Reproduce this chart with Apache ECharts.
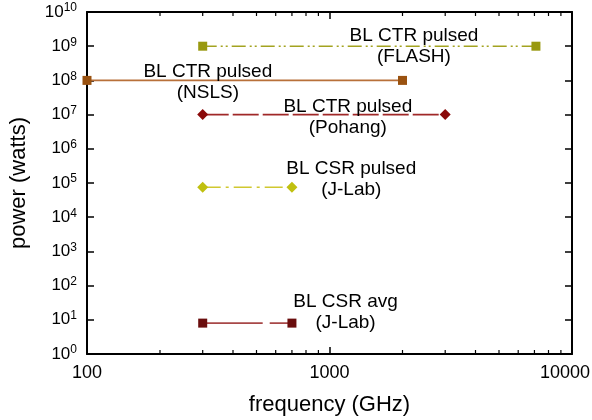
<!DOCTYPE html>
<html><head><meta charset="utf-8">
<script src="https://cdn.jsdelivr.net/npm/echarts@6/dist/echarts.min.js"></script>
<style>html,body{margin:0;padding:0;background:#fff}#c{width:592px;height:420px}</style>
</head><body><div id="c"></div>
<script>
// Data
const flashX = [300, 7100];   const flashY = [1e9, 1e9];
const nslsX = [100, 2000];    const nslsY = [1e8, 1e8];
const pohangX = [300, 3000];  const pohangY = [1e7, 1e7];
const jlabPX = [300, 700];    const jlabPY = [7.5e4, 7.5e4];
const jlabAX = [300, 700];    const jlabAY = [8, 8];
const labelTexts = ['BL CTR pulsed\n(FLASH)', 'BL CTR pulsed\n(NSLS)', 'BL CTR pulsed\n(Pohang)', 'BL CSR pulsed\n(J-Lab)', 'BL CSR avg\n(J-Lab)'];
const labelX = [2230, 315, 1190, 1230, 1165];
const labelY = [1e9, 0.87e8, 0.82e7, 1.3e5, 17];
const xMinorTicks = [200,300,400,500,600,700,800,900,2000,3000,4000,5000,6000,7000,8000,9000];

const pair = (xs, ys) => xs.map((x, i) => [x, ys[i]]);
const font = 'Liberation Sans, Arial, sans-serif';

const chart = echarts.init(document.getElementById('c'), null, {renderer: 'canvas'});
function line(name, xs, ys, lineColor, markerColor, symbol, dash, size) {
  return {
    name, type: 'line', data: pair(xs, ys), symbol, symbolSize: size || 9,
    lineStyle: {color: lineColor, width: 1.6, type: dash},
    itemStyle: {color: markerColor}, z: 3
  };
}
const opt = {
  animation: false,
  grid: {left: 87, right: 20, top: 12, bottom: 66, containLabel: false, outerBoundsMode: 'none'},
  xAxis: [{
    type: 'log', logBase: 10, min: 100, max: 10000,
    name: 'frequency (GHz)', nameLocation: 'middle', nameGap: 40,
    nameTextStyle: {fontSize: 22, fontFamily: font, color: '#000'},
    axisLine: {lineStyle: {color: '#000', width: 2}},
    axisTick: {inside: true, length: 7, lineStyle: {color: '#000', width: 1.5}},
    axisLabel: {fontSize: 18, fontFamily: font, color: '#000', margin: 10,
      formatter: v => v >= 9999 ? '{r|' + Math.round(v) + '}' : String(Math.round(v)),
      rich: {r: {fontSize: 18, fontFamily: font, color: '#000', padding: [0, 14, 0, 0]}}},
    splitLine: {show: false}
  }, {
    type: 'log', logBase: 10, min: 100, max: 10000, position: 'top',
    axisLine: {lineStyle: {color: '#000', width: 2}},
    axisTick: {inside: true, length: 7, lineStyle: {color: '#000', width: 1.5}},
    axisLabel: {show: false}, splitLine: {show: false}
  }],
  yAxis: [{
    type: 'log', logBase: 10, min: 1, max: 1e10, interval: 1,
    name: 'power (watts)', nameLocation: 'middle', nameGap: 57, nameRotate: 90,
    nameTextStyle: {fontSize: 22, fontFamily: font, color: '#000'},
    axisLine: {lineStyle: {color: '#000', width: 2}},
    axisTick: {inside: true, length: 7, lineStyle: {color: '#000', width: 1.5}},
    axisLabel: {
      fontFamily: font, color: '#000', margin: 10,
      formatter: v => '{b|10}{s|' + Math.round(Math.log10(v)) + '}',
      rich: {b: {fontSize: 17, fontFamily: font, color: '#000'},
             s: {fontSize: 12, fontFamily: font, color: '#000', verticalAlign: 'top', padding: [0,0,8,0]}}
    },
    splitLine: {show: false}
  }, {
    type: 'log', logBase: 10, min: 1, max: 1e10, interval: 1, position: 'right',
    axisLine: {lineStyle: {color: '#000', width: 2}},
    axisTick: {inside: true, length: 7, lineStyle: {color: '#000', width: 1.5}},
    axisLabel: {show: false}, splitLine: {show: false}
  }],
  series: [
    line('FLASH', flashX, flashY, '#a3a320', '#999910', 'rect', [14,4,2,3,2,4]),
    line('NSLS', nslsX, nslsY, '#b8703a', '#9a5210', 'rect', 'solid'),
    line('Pohang', pohangX, pohangY, '#a02828', '#8b0a0a', 'diamond', [26,4], 11),
    line('JLabP', jlabPX, jlabPY, '#d0c830', '#c0c010', 'diamond', [18,5,3,5], 11),
    line('JLabA', jlabAX, jlabAY, '#a84848', '#6a0d0d', 'rect', [60,7]),
    {
      type: 'custom', z: 5, silent: true,
      data: labelTexts.map((t, i) => [labelX[i], labelY[i], i]),
      renderItem: (params, api) => {
        const p = api.coord([api.value(0), api.value(1)]);
        return {type: 'text', x: p[0], y: p[1], style: {
          text: labelTexts[api.value(2)], fill: '#000', fontSize: 19, fontFamily: font,
          lineHeight: 21, align: 'center', verticalAlign: 'middle'}};
      }
    },
    {
      type: 'custom', z: 6, silent: true,
      data: xMinorTicks.map(v => [v]),
      renderItem: (params, api) => {
        const pb = api.coord([api.value(0), 1]);
        const pt = api.coord([api.value(0), 1e10]);
        return {type: 'group', children: [
          {type: 'line', shape: {x1: pb[0], y1: pb[1], x2: pb[0], y2: pb[1] - 4}, style: {stroke: '#000', lineWidth: 1.2}},
          {type: 'line', shape: {x1: pt[0], y1: pt[1], x2: pt[0], y2: pt[1] + 4}, style: {stroke: '#000', lineWidth: 1.2}}
        ]};
      }
    }
  ]
};
chart.setOption(opt);
</script></body></html>
